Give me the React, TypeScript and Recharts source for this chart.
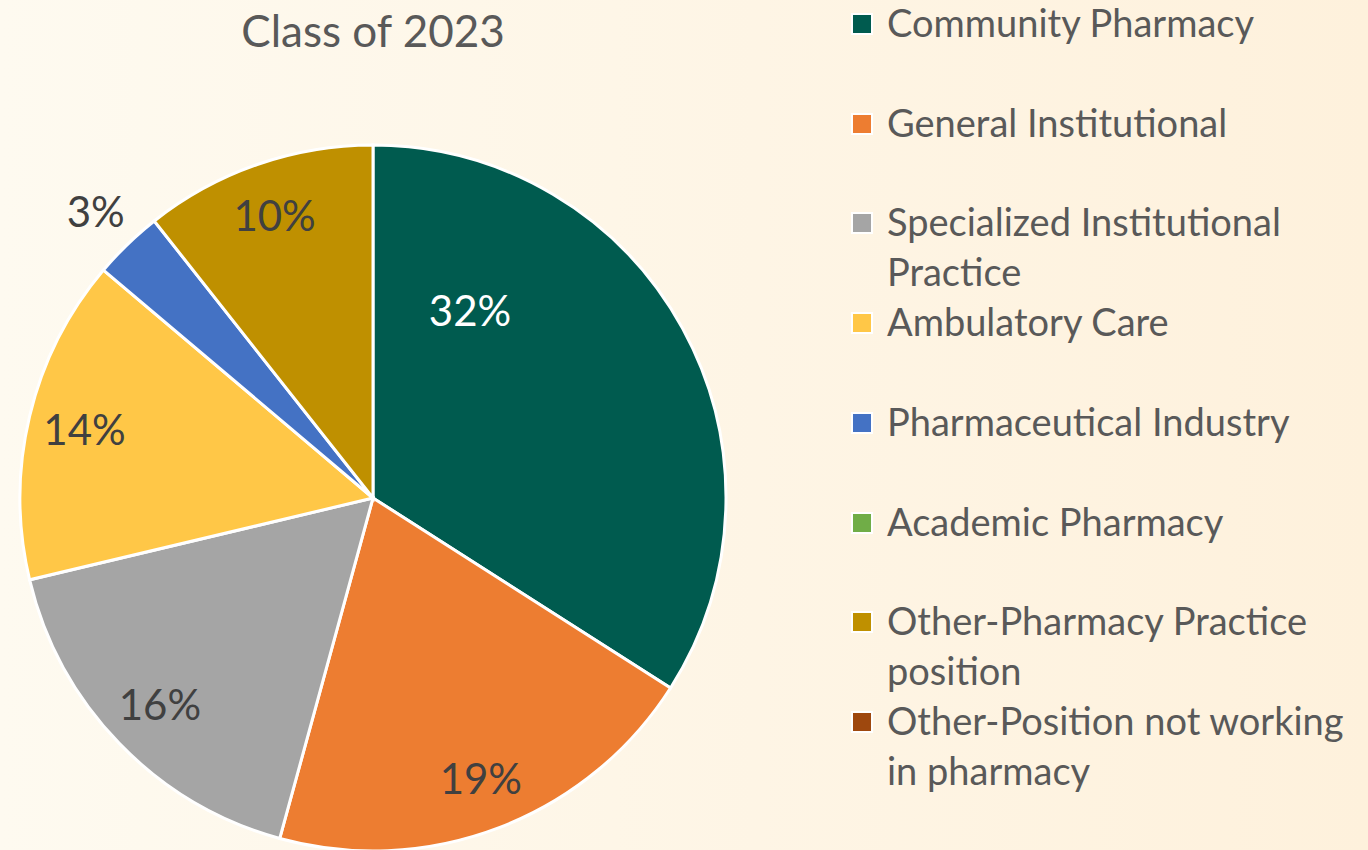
import React from "react";
import { PieChart, Pie, Cell, Legend } from "recharts";

const CATEGORIES = [
  "Community Pharmacy",
  "General Institutional",
  "Specialized Institutional Practice",
  "Ambulatory Care",
  "Pharmaceutical Industry",
  "Academic Pharmacy",
  "Other-Pharmacy Practice position",
  "Other-Position not working in pharmacy",
];
const VALUES = [32, 19, 16, 14, 3, 0, 10, 0];
const COLORS = ["#005B4F", "#ED7D31", "#A5A5A5", "#FFC747", "#4472C4", "#70AD47", "#BF9000", "#9E480E"];
const LEGEND_LINES = [
  ["Community Pharmacy"],
  ["General Institutional"],
  ["Specialized Institutional", "Practice"],
  ["Ambulatory Care"],
  ["Pharmaceutical Industry"],
  ["Academic Pharmacy"],
  ["Other-Pharmacy Practice", "position"],
  ["Other-Position not working", "in pharmacy"],
];
const TITLE = "Class of 2023";

const data = CATEGORIES.map((name, i) => ({ name, value: VALUES[i] }));

const FONT = "Lato, 'Open Sans', sans-serif";
const RAD = Math.PI / 180;

// label placement: radius fraction of outer radius, optional angle shift
const LABEL_RADIUS = [0.6, 0.85, 0.84, 0.84, 1.13, 0.85, 0.85, 0.85];
const LABEL_ANGLE_SHIFT = [34, 0, 0, 0, 0, 0, 0, 0];

const renderLabel = (props: any) => {
  const { cx, cy, midAngle, outerRadius, index, value } = props;
  if (!value) return null;
  const a = midAngle + LABEL_ANGLE_SHIFT[index];
  const r = outerRadius * LABEL_RADIUS[index];
  const x = cx + r * Math.cos(-a * RAD);
  const y = cy + r * Math.sin(-a * RAD);
  return (
    <text
      x={x}
      y={y}
      textAnchor="middle"
      dominantBaseline="central"
      fill={index === 0 ? "#FFFFFF" : "#404040"}
      fontSize={42}
      fontFamily={FONT}
    >
      {`${value}%`}
    </text>
  );
};

const renderLegend = () => (
  <div style={{ position: "relative", width: 517, height: 850, fontFamily: FONT }}>
    {LEGEND_LINES.map((lines, i) => (
      <div key={i} style={{ position: "absolute", left: 0, top: i * 99.7 }}>
        <div
          style={{
            position: "absolute",
            left: 0,
            top: 13,
            width: 18,
            height: 18,
            background: COLORS[i],
            border: "2px solid #FFFFFF",
          }}
        />
        {lines.map((ln, j) => (
          <div
            key={j}
            style={{
              position: "absolute",
              left: 36,
              top: j * 50 - 1,
              fontSize: 38,
              lineHeight: "46px",
              color: "#595959",
              whiteSpace: "nowrap",
            }}
          >
            {ln}
          </div>
        ))}
      </div>
    ))}
  </div>
);

export default function App() {
  return (
    <div
      style={{
        position: "absolute",
        left: 0,
        top: 0,
        width: 1368,
        height: 850,
        overflow: "hidden",
        background: "linear-gradient(to right, #FEFAF0, #FEF1DC)",
      }}
    >
      <div
        style={{
          position: "absolute",
          left: 373,
          top: 0,
          transform: "translateX(-50%)",
          fontFamily: FONT,
          fontSize: 44,
          lineHeight: "60px",
          color: "#595959",
          whiteSpace: "nowrap",
        }}
      >
        {TITLE}
      </div>
      <PieChart width={1368} height={850} margin={{ top: 0, right: 0, bottom: 0, left: 0 }}>
        <Pie
          data={data}
          dataKey="value"
          nameKey="name"
          cx={373}
          cy={498}
          outerRadius={353}
          startAngle={90}
          endAngle={-270}
          stroke="#FFFFFF"
          strokeWidth={3}
          label={renderLabel}
          labelLine={false}
          isAnimationActive={false}
        >
          {data.map((d, i) => (
            <Cell key={d.name} fill={COLORS[i]} />
          ))}
        </Pie>
        <Legend
          layout="vertical"
          verticalAlign="top"
          align="right"
          content={renderLegend}
          wrapperStyle={{ left: 851, right: "auto", top: 0, width: 517 }}
        />
      </PieChart>
    </div>
  );
}
